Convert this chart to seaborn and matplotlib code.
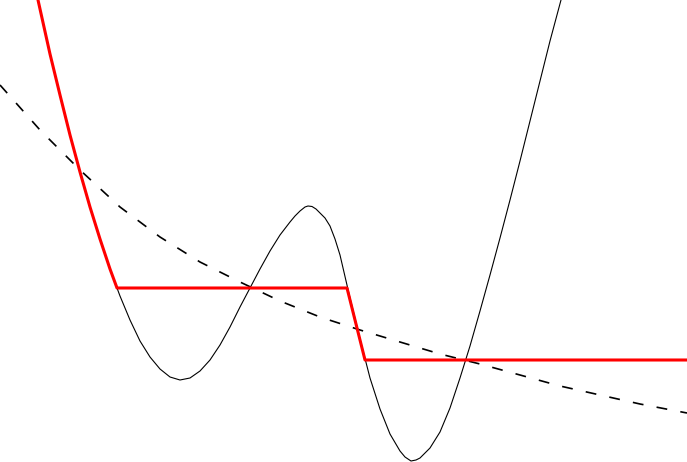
import numpy as np
import pandas as pd
import matplotlib
matplotlib.use('Agg')
import matplotlib.pyplot as plt
import seaborn as sns

# Krzywa czarna (ciagla) - wartosci
curve_x = [38, 50, 60, 70, 80, 90, 100, 110, 117, 120, 130, 140, 150, 160, 170, 180,
           190, 200, 210, 220, 230, 240, 250, 260, 270, 280, 290, 295, 300, 305, 308,
           312, 316, 320, 325, 330, 335, 340, 350, 360, 370, 380, 390, 400, 405, 411,
           416, 420, 430, 440, 450, 460, 470, 480, 490, 500, 510, 520, 530, 540, 550, 561]
curve_y = [462, 408, 367, 327, 290, 255, 223, 193, 174, 166, 142, 121, 105, 93, 85, 82,
           84, 91, 102, 117, 135, 155, 174, 193, 211, 227, 240, 246, 251, 255, 256,
           255.5, 253, 249, 244, 236, 223, 207, 164, 123, 84, 53, 28, 11, 5, 1,
           2, 4, 14, 30, 54, 84, 116, 151, 187, 224, 262, 301, 341, 381, 421, 462]

# Krzywa przerywana
dashed_x = [0, 40, 80, 120, 160, 200, 240, 280, 320, 360, 400, 440, 480, 520, 560, 600, 640, 687]
dashed_y = [377, 332, 292, 255, 225, 200, 180, 161, 145, 132, 120, 108, 98, 87, 76, 67, 58, 49]

# Linia czerwona
red_x = [38, 50, 60, 70, 80, 90, 100, 110, 117, 347, 365, 687]
red_y = [462, 408, 367, 327, 290, 255, 223, 193, 174, 174, 102, 102]

df_curve = pd.DataFrame({'x': curve_x, 'y': curve_y})
df_dashed = pd.DataFrame({'x': dashed_x, 'y': dashed_y})
df_red = pd.DataFrame({'x': red_x, 'y': red_y})

sns.set_style('white')
fig = plt.figure(figsize=(6.87, 4.62), dpi=100)
ax = fig.add_axes([0, 0, 1, 1])

sns.lineplot(data=df_curve, x='x', y='y', ax=ax, color='black', lw=0.8,
             estimator=None, sort=False)
sns.lineplot(data=df_dashed, x='x', y='y', ax=ax, color='black', lw=1.2,
             linestyle=(0, (6.5, 8)), estimator=None, sort=False)
sns.lineplot(data=df_red, x='x', y='y', ax=ax, color='red', lw=2.2,
             estimator=None, sort=False)

ax.set_xlim(0, 687)
ax.set_ylim(0, 462)
ax.axis('off')

plt.savefig('out.png', dpi=100)
